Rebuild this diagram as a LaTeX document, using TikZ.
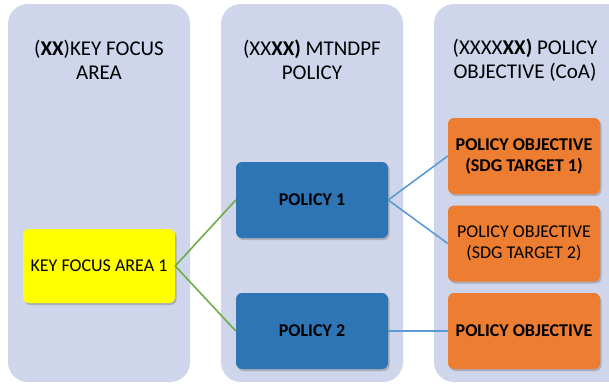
\documentclass[tikz,border=0pt]{standalone}
\usepackage{fontspec}
\setmainfont{Carlito}
\usetikzlibrary{shadows}
\definecolor{colbg}{HTML}{CFD5EA}
\definecolor{kfa}{HTML}{FFFF00}
\definecolor{pol}{HTML}{2E75B6}
\definecolor{obj}{HTML}{ED7D31}
\definecolor{gline}{HTML}{70AD47}
\definecolor{bline}{HTML}{5B9BD5}
\tikzset{
  colbox/.style={fill=colbg, draw=none, rounded corners=20pt},
  boxbase/.style={draw=none, rounded corners=6pt, align=center, inner sep=1pt,
    font=\fontsize{18}{21}\selectfont, text=black,
    drop shadow={shadow xshift=1.5pt, shadow yshift=-2pt, opacity=0.35, fill=black!60}},
  kfabox/.style={boxbase, fill=kfa, minimum width=152pt, minimum height=74pt},
  polbox/.style={boxbase, fill=pol, minimum width=152pt, minimum height=76pt, font=\fontsize{18}{21}\selectfont\bfseries},
  objbox/.style={boxbase, fill=obj, minimum width=152pt, minimum height=76pt},
  boldtext/.style={font=\fontsize{18}{21}\selectfont\bfseries},
  head/.style={align=center, font=\fontsize{21}{24}\selectfont, text=black},
  gcon/.style={draw=gline, line width=1.6pt},
  bcon/.style={draw=bline, line width=1.6pt},
}
\begin{document}
\begin{tikzpicture}[x=1pt,y=-1pt]
\useasboundingbox (0,0) rectangle (609,383);
\fill[white] (0,0) rectangle (609,383);
\begin{scope}
\clip (0,0) rectangle (609,383);
\path[colbox] (8,4) rectangle (190,382);
\path[colbox] (221,4) rectangle (403,382);
\path[colbox] (434,4) rectangle (640,382);
\end{scope}
\node[head] (h1) at (99,60) {(\textbf{XX})KEY FOCUS\\AREA};
\node[head] (h2) at (312,60) {(XX\textbf{XX)} MTNDPF\\POLICY};
\node[head] (h3) at (525,60) {(XXXX\textbf{XX)} POLICY\\OBJECTIVE (CoA)};
\node[kfabox] (k1) at (99,266) {KEY FOCUS AREA 1};
\node[polbox] (p1) at (312,200) {POLICY 1};
\node[polbox] (p2) at (312,331) {POLICY 2};
\node[objbox, boldtext] (o1) at (524,156) {POLICY OBJECTIVE\\(SDG TARGET 1)};
\node[objbox] (o2) at (524,243.5) {POLICY OBJECTIVE\\(SDG TARGET 2)};
\node[objbox, boldtext] (o3) at (524,331) {POLICY OBJECTIVE};
\draw[gcon] (k1.east) -- (p1.west);
\draw[gcon] (k1.east) -- (p2.west);
\draw[bcon] (p1.east) -- (o1.west);
\draw[bcon] (p1.east) -- (o2.west);
\draw[bcon] (p2.east) -- (o3.west);
\end{tikzpicture}
\end{document}
